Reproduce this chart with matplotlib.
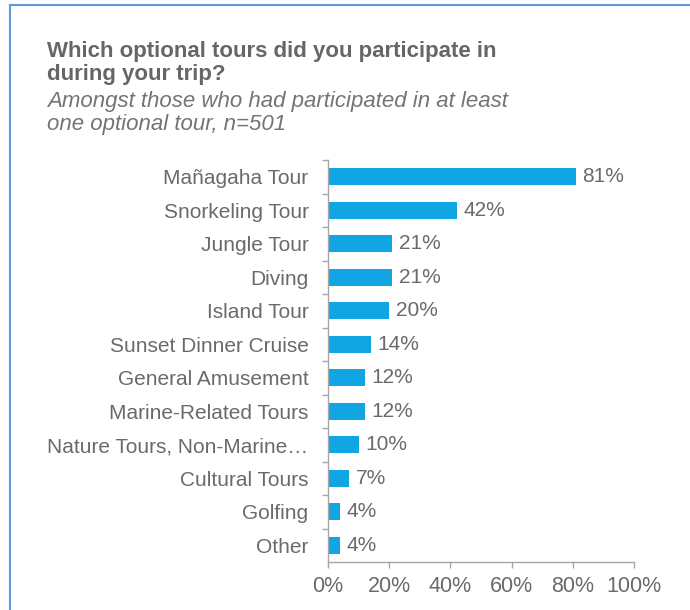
import matplotlib
matplotlib.use("Agg")
import matplotlib.pyplot as plt
from matplotlib.lines import Line2D

categories = ["Mañagaha Tour", "Snorkeling Tour", "Jungle Tour", "Diving",
              "Island Tour", "Sunset Dinner Cruise", "General Amusement",
              "Marine-Related Tours", "Nature Tours, Non-Marine…",
              "Cultural Tours", "Golfing", "Other"]
values = [81, 42, 21, 21, 20, 14, 12, 12, 10, 7, 4, 4]
xticks = [0, 20, 40, 60, 80, 100]
xtick_labels = ["0%", "20%", "40%", "60%", "80%", "100%"]

plt.rcParams['font.family'] = ['Liberation Sans', 'DejaVu Sans']

text_col = '#6a6a6a'
bar_col = '#12a5e3'
axis_col = '#a6a6a6'
fs = 15

fig = plt.figure(figsize=(6.9, 6.1), dpi=100)
fig.patch.set_facecolor('white')
ax = fig.add_axes([328/690, 1 - 562/610, (634 - 328)/690, (562 - 160)/610])

pos = list(range(len(categories)))
ax.barh(pos, values, height=0.51, color=bar_col)
for p, v in zip(pos, values):
    ax.text(v + 2.2, p, f"{v}%", va='center', ha='left', fontsize=fs, color=text_col)

ax.set_ylim(len(categories) - 0.5, -0.5)
ax.set_xlim(0, 100)
ax.set_yticks(pos)
ax.set_yticklabels(categories, fontsize=fs, color=text_col)
ax.set_yticks([p + 0.5 for p in pos[:-1]] + [-0.5], minor=True)
ax.tick_params(axis='y', which='major', length=0, pad=14)
ax.tick_params(axis='y', which='minor', length=4, color=axis_col, width=1)
ax.set_xticks(xticks)
ax.set_xticklabels(xtick_labels, fontsize=fs + 0.5, color=text_col)
ax.tick_params(axis='x', length=4.3, color=axis_col, width=1, pad=6)

for s in ['top', 'right']:
    ax.spines[s].set_visible(False)
for s in ['left', 'bottom']:
    ax.spines[s].set_color(axis_col)
    ax.spines[s].set_linewidth(1)

# title and subtitle, one line at a time
title_lines = ["Which optional tours did you participate in", "during your trip?"]
sub_lines = ["Amongst those who had participated in at least", "one optional tour, n=501"]
for line, base in zip(title_lines, [57, 80]):
    fig.text(47/690, 1 - base/610, line, fontsize=16, fontweight='bold',
             color='#666666', va='baseline', ha='left')
for line, base in zip(sub_lines, [107, 130]):
    fig.text(47/690, 1 - base/610, line, fontsize=16, style='italic',
             color='#747474', va='baseline', ha='left')

# frame lines on left and top
fig.add_artist(Line2D([10/690, 10/690], [0, 1 - 5/610], transform=fig.transFigure,
                      color='#5b9bd5', linewidth=1.5))
fig.add_artist(Line2D([10/690, 1], [1 - 5/610, 1 - 5/610], transform=fig.transFigure,
                      color='#5b9bd5', linewidth=1.5))

fig.savefig("out.png", dpi=100)
